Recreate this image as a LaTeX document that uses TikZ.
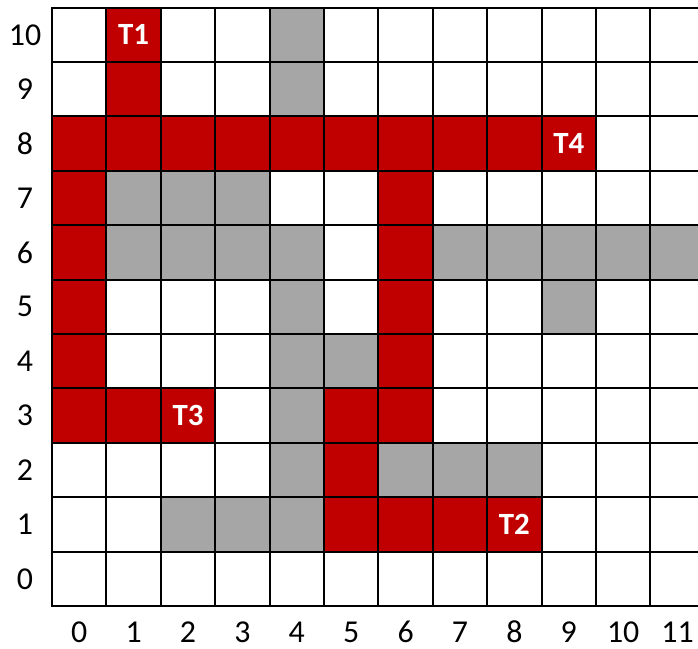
\documentclass[tikz,border=0pt]{standalone}
\usepackage{fontspec}
\setmainfont{Carlito}
\definecolor{pathred}{HTML}{C00000}
\definecolor{blockgray}{HTML}{A6A6A6}
\tikzset{
  redcell/.style={fill=pathred},
  graycell/.style={fill=blockgray},
  gridline/.style={draw=black,line width=2bp,line cap=rect},
  axislabel/.style={font=\fontsize{32}{32}\selectfont,text=black,inner sep=0pt},
  tlabel/.style={font=\fontsize{31}{31}\selectfont\bfseries,text=white,inner sep=0pt}
}
\begin{document}
\begin{tikzpicture}[x=1bp,y=1bp]
\useasboundingbox (0,0) rectangle (698,649);
\clip (0,0) rectangle (698,649);
\def\s{54.4}
\def\ox{52}
\def\oy{43}
% red path cells
\foreach \c/\r in {1/10,1/9,0/8,1/8,2/8,3/8,4/8,5/8,6/8,7/8,8/8,9/8,
  0/7,6/7,0/6,6/6,0/5,6/5,0/4,6/4,0/3,1/3,2/3,5/3,6/3,5/2,5/1,6/1,7/1,8/1}
  \path[redcell] (\ox+\s*\c,\oy+\s*\r) rectangle ++(\s,\s);
% gray obstacle cells
\foreach \c/\r in {4/10,4/9,1/7,2/7,3/7,1/6,2/6,3/6,4/6,7/6,8/6,9/6,10/6,11/6,
  4/5,9/5,4/4,5/4,4/3,4/2,6/2,7/2,8/2,2/1,3/1,4/1}
  \path[graycell] (\ox+\s*\c,\oy+\s*\r) rectangle ++(\s,\s);
% grid
\foreach \i in {0,...,12}
  \draw[gridline] (\ox+\s*\i,\oy) -- (\ox+\s*\i,\oy+11*\s);
\foreach \j in {0,...,11}
  \draw[gridline] (\ox,\oy+\s*\j) -- (\ox+12*\s,\oy+\s*\j);
% axis labels
\foreach \r in {0,...,10}
  \node[axislabel] (row\r) at (25,\oy+\s*\r+0.5*\s) {\r};
\foreach \c in {0,...,11}
  \node[axislabel] (col\c) at (\ox+\s*\c+0.5*\s,17) {\c};
% terminal labels
\node[tlabel] (t1) at (\ox+1.5*\s,\oy+10.5*\s) {T1};
\node[tlabel] (t2) at (\ox+8.5*\s,\oy+1.5*\s) {T2};
\node[tlabel] (t3) at (\ox+2.5*\s,\oy+3.5*\s) {T3};
\node[tlabel] (t4) at (\ox+9.5*\s,\oy+8.5*\s) {T4};
\end{tikzpicture}
\end{document}
